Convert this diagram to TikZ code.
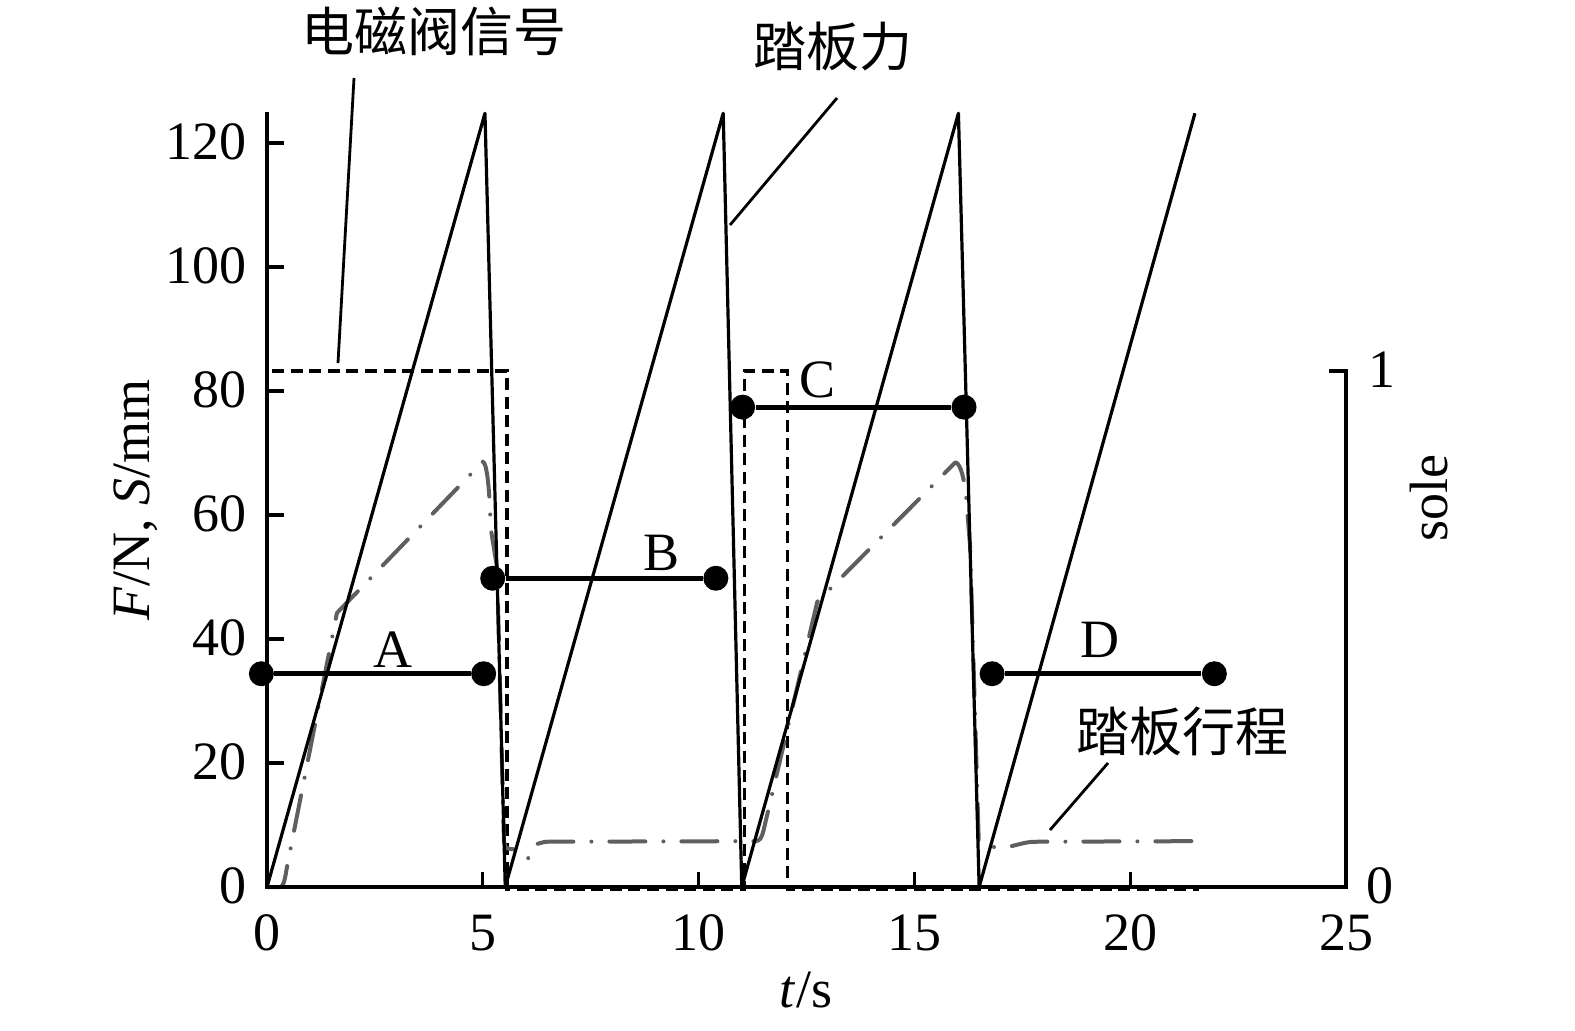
\documentclass[tikz,border=0pt]{standalone}
\usepackage{fontspec}
\setmainfont{Liberation Serif}
\newfontfamily\cjk{Noto Sans CJK SC}
\definecolor{travelgray}{RGB}{95,95,95}
\begin{document}
\begin{tikzpicture}[x=0.5pt,y=-0.5pt,
  lbl/.style={font=\fontsize{27}{29}\selectfont, inner sep=0pt},
  cjklbl/.style={font=\cjk\fontsize{26.5}{29}\selectfont, inner sep=0pt},
  axisline/.style={line width=1.6pt, black},
  force/.style={line width=1.6pt, black, line join=round},
  travel/.style={line width=2pt, travelgray, dash pattern=on 18pt off 9pt on 0pt off 9pt, line cap=round, line join=round},
  signal/.style={line width=1.7pt, black, dash pattern=on 6pt off 3.3pt},
  seg/.style={line width=2.6pt, black},
  dot/.style={circle, fill=black, minimum size=12.5pt, inner sep=0pt},
  leader/.style={line width=1.4pt, black}
]
\useasboundingbox (0,0) rectangle (1575,1030);

% ---------- data ----------
\begin{scope}[shift={(133.5pt,-443.5pt)}, x=21.58pt, y=3.1pt]
  % solenoid signal (1 on right axis = 83.2 on left axis)
  \draw[signal] (0,0) -- (0,83.2) -- (5.56,83.2) -- (5.56,-0.3) -- (11.06,-0.3)
     -- (11.06,83.2) -- (12.06,83.2) -- (12.06,-0.3) -- (21.6,-0.3);
  % pedal travel
  \draw[travel] (0,0) -- (0.3,0) .. controls (0.4,0) and (0.43,2) .. (0.47,3.5)
     -- (1.62,44.2) -- (5.0,68.6)
     .. controls (5.1,68.4) and (5.16,64) .. (5.18,58) -- (5.33,51.5) -- (5.49,7.5)
     .. controls (5.52,6.2) .. (5.7,6.1)
     .. controls (5.9,6.0) and (6.0,5.0) .. (6.05,4.6)
     .. controls (6.15,6.8) .. (6.45,7.3)
     -- (11.3,7.4) .. controls (11.42,7.4) and (11.45,7.8) .. (11.5,9)
     -- (12.75,46) -- (15.95,68.5)
     .. controls (16.08,68.4) and (16.19,65) .. (16.22,61) -- (16.29,55) -- (16.49,7.5)
     .. controls (16.56,6.8) and (16.7,6.4) .. (17.0,6.4)
     .. controls (17.3,6.4) and (17.5,7.3) .. (17.8,7.3) -- (21.65,7.4);
  % pedal force
  \draw[force] (0,0) -- (5.05,124.8) -- (5.52,0) -- (10.57,124.8) -- (11.0,0)
     -- (16.02,124.8) -- (16.5,0) -- (21.5,124.8);
\end{scope}

% ---------- axes ----------
\draw[axisline] (267,112) -- (267,887) -- (1346,887) -- (1346,371) -- (1329,371);
\foreach \v in {20,40,...,120} \draw[axisline] (267,{887-6.2*\v}) -- (284,{887-6.2*\v});
\foreach \t in {5,10,15,20} \draw[axisline] ({267+43.16*\t},887) -- ({267+43.16*\t},872);
\foreach \v in {0,20,...,120} \node[lbl, anchor=base east] at (247,{887-6.2*\v+16}) {\v};
\foreach \t in {0,5,...,25} \node[lbl, anchor=base] at ({267+43.16*\t},950) {\t};
\node[lbl, anchor=base west] (r1) at (1368,387) {1};
\node[lbl, anchor=base west] (r0) at (1366,903) {0};
\node[lbl, rotate=90] (ylab) at (136,500) {\textit{F}/N, \textit{S}/mm};
\node[lbl] (xlab) at (806,990) {\textit{t}/s};
\node[lbl, rotate=90] (slab) at (1429,498) {sole};

% ---------- markers A-D ----------
\begin{scope}[shift={(133.5pt,-443.5pt)}, x=21.58pt, y=3.1pt]
  \node[dot] (A1) at (-0.13,34.4) {};
  \node[dot] (A2) at (5.02,34.4) {};
  \node[dot] (B1) at (5.23,49.8) {};
  \node[dot] (B2) at (10.4,49.8) {};
  \node[dot] (C1) at (11.02,77.4) {};
  \node[dot] (C2) at (16.15,77.4) {};
  \node[dot] (D1) at (16.8,34.4) {};
  \node[dot] (D2) at (21.95,34.4) {};
\end{scope}
\draw[seg] (A1) -- (A2);
\draw[seg] (B1) -- (B2);
\draw[seg] (C1) -- (C2);
\draw[seg] (D1) -- (D2);
\node[lbl] (la) at (393,650) {A};
\node[lbl] (lb) at (662,553) {B};
\node[lbl] (lc) at (818,380) {C};
\node[lbl] (ld) at (1100,640) {D};

% ---------- callouts ----------
\node[cjklbl] (sig) at (434,31) {电磁阀信号};
\node[cjklbl] (pf) at (833,46) {踏板力};
\node[cjklbl] (ps) at (1182,731) {踏板行程};
\coordinate (s1) at (354,78);
\coordinate (s2) at (338,363);
\coordinate (f1) at (837,98);
\coordinate (f2) at (730,225);
\coordinate (t1) at (1108,763);
\coordinate (t2) at (1050,830);
\draw[leader] (s1) -- (s2);
\draw[leader] (f1) -- (f2);
\draw[leader] (t1) -- (t2);
\end{tikzpicture}
\end{document}
